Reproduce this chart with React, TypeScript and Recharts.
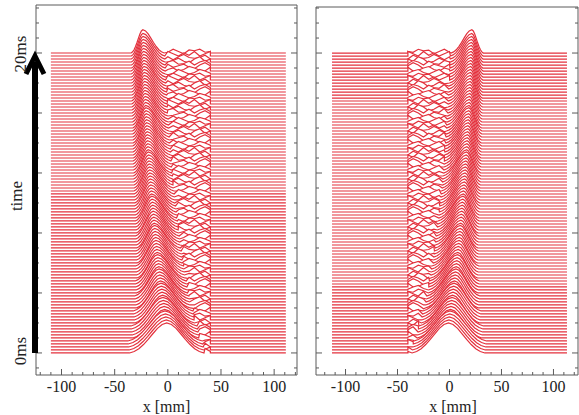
import { ComposedChart, Area, XAxis, YAxis } from "recharts";

const SERIF = "'Liberation Serif', 'DejaVu Serif', serif";
const TRACE_RED = "#e3303c";
const FRAME = "#5a5a5a";

// time of each trace [ms]
const TIMES = [
  0, 0.2, 0.4, 0.6, 0.8, 1, 1.2, 1.4, 1.6, 1.8,
  2, 2.2, 2.4, 2.6, 2.8, 3, 3.2, 3.4, 3.6, 3.8,
  4, 4.2, 4.4, 4.6, 4.8, 5, 5.2, 5.4, 5.6, 5.8,
  6, 6.2, 6.4, 6.6, 6.8, 7, 7.2, 7.4, 7.6, 7.8,
  8, 8.2, 8.4, 8.6, 8.8, 9, 9.2, 9.4, 9.6, 9.8,
  10, 10.2, 10.4, 10.6, 10.8, 11, 11.2, 11.4, 11.6, 11.8,
  12, 12.2, 12.4, 12.6, 12.8, 13, 13.2, 13.4, 13.6, 13.8,
  14, 14.2, 14.4, 14.6, 14.8, 15, 15.2, 15.4, 15.6, 15.8,
  16, 16.2, 16.4, 16.6, 16.8, 17, 17.2, 17.4, 17.6, 17.8,
  18, 18.2, 18.4, 18.6, 18.8, 19, 19.2, 19.4, 19.6, 19.8,
  20,
];

// crest position of each trace [mm]
const LEFT_PEAK = [
  -1.0, -1.4, -1.8, -2.2, -2.6, -3.0, -3.4, -3.8, -4.2, -4.6,
  -5.0, -5.4, -5.7, -6.1, -6.4, -6.8, -7.1, -7.5, -7.8, -8.2,
  -8.5, -8.8, -9.1, -9.4, -9.7, -10.0, -10.3, -10.6, -10.9, -11.2,
  -11.5, -11.8, -12.0, -12.3, -12.5, -12.8, -13.0, -13.3, -13.5, -13.8,
  -14.0, -14.3, -14.5, -14.8, -15.0, -15.3, -15.5, -15.8, -16.0, -16.3,
  -16.5, -16.7, -16.9, -17.1, -17.3, -17.5, -17.7, -17.9, -18.1, -18.3,
  -18.5, -18.7, -18.8, -19.0, -19.1, -19.3, -19.4, -19.6, -19.7, -19.9,
  -20.0, -20.2, -20.3, -20.5, -20.6, -20.8, -20.9, -21.1, -21.2, -21.4,
  -21.5, -21.6, -21.7, -21.8, -21.9, -22.0, -22.1, -22.2, -22.3, -22.4,
  -22.5, -22.6, -22.7, -22.8, -22.9, -23.0, -23.1, -23.2, -23.3, -23.4,
  -23.5,
];

const RIGHT_PEAK = [
  -1.0, -0.6, -0.2, 0.2, 0.6, 1.0, 1.4, 1.8, 2.2, 2.6,
  3.0, 3.4, 3.7, 4.1, 4.4, 4.8, 5.1, 5.5, 5.8, 6.2,
  6.5, 6.8, 7.1, 7.4, 7.7, 8.0, 8.3, 8.6, 8.9, 9.2,
  9.5, 9.8, 10.0, 10.3, 10.5, 10.8, 11.0, 11.3, 11.5, 11.8,
  12.0, 12.3, 12.5, 12.8, 13.0, 13.3, 13.5, 13.8, 14.0, 14.3,
  14.5, 14.7, 14.9, 15.1, 15.3, 15.5, 15.7, 15.9, 16.1, 16.3,
  16.5, 16.7, 16.8, 17.0, 17.1, 17.3, 17.4, 17.6, 17.7, 17.9,
  18.0, 18.2, 18.3, 18.5, 18.6, 18.8, 18.9, 19.1, 19.2, 19.4,
  19.5, 19.6, 19.7, 19.8, 19.9, 20.0, 20.1, 20.2, 20.3, 20.4,
  20.5, 20.6, 20.7, 20.8, 20.9, 21.0, 21.1, 21.2, 21.3, 21.4,
  21.5,
];

// per ms (0..20): crest height [ms units], leading / trailing half-widths [mm]
const PEAK_HEIGHT = [2.0, 1.9, 1.85, 1.8, 1.75, 1.7, 1.7, 1.65, 1.65, 1.6, 1.6, 1.6, 1.55, 1.55, 1.55, 1.5, 1.5, 1.5, 1.5, 1.5, 1.55];
const LEAD_WIDTH = [35, 30, 26, 23, 21, 19, 17.5, 16.5, 15.5, 15, 14.5, 14, 13.5, 13, 12.5, 12, 12, 11.5, 11.5, 11, 11];
const TAIL_WIDTH = [35, 32, 30, 28, 27, 26, 25, 24.5, 24, 23.5, 23, 22.5, 22, 22, 21.5, 21.5, 21, 21, 20.5, 20.5, 20];

// crest profile, sampled from the crest outwards (fraction of half-width)
const PULSE_U = [0, 0.125, 0.25, 0.375, 0.5, 0.625, 0.75, 0.875, 1];
const PULSE_SHAPE = [1, 0.95, 0.82, 0.64, 0.45, 0.28, 0.14, 0.05, 0];

// ripples behind the crest inside the measured window
const WAKE_X = [-40, -35, -30, -25, -20, -15, -10, -5, 0, 5, 10, 15, 20, 25, 30, 35, 40];
const WAKE_ROWS = [
  [0.05, -0.05, 0.1, 0.0, 0.15, 0.25, 0.1, -0.05, 0.2, 0.3, 0.05, 0.1, 0.25, 0.0, 0.2, 0.3, 0.1],
  [0.0, 0.1, -0.05, 0.15, 0.05, 0.0, 0.3, 0.2, 0.0, 0.1, 0.25, 0.05, -0.05, 0.2, 0.35, 0.05, 0.2],
  [0.1, 0.0, 0.05, 0.2, -0.05, 0.1, 0.05, 0.25, 0.15, -0.05, 0.15, 0.3, 0.1, 0.05, 0.1, 0.25, 0.0],
  [-0.05, 0.05, 0.15, 0.05, 0.2, 0.05, -0.1, 0.1, 0.3, 0.15, 0.0, 0.2, 0.05, 0.3, 0.0, 0.15, 0.3],
  [0.05, 0.15, 0.0, -0.05, 0.1, 0.3, 0.15, 0.0, 0.05, 0.25, 0.1, -0.05, 0.2, 0.15, 0.25, 0.05, 0.1],
  [0.0, -0.05, 0.2, 0.1, 0.0, 0.15, 0.25, 0.1, -0.05, 0.05, 0.3, 0.15, 0.0, 0.1, 0.3, 0.2, 0.05],
  [0.1, 0.05, -0.05, 0.25, 0.15, -0.05, 0.05, 0.2, 0.1, 0.2, 0.0, 0.1, 0.3, 0.2, 0.05, 0.0, 0.25],
  [0.0, 0.1, 0.05, 0.0, 0.25, 0.1, 0.2, -0.05, 0.25, 0.05, 0.15, 0.25, 0.05, -0.05, 0.2, 0.35, 0.15],
];

const LEFT_RANGE = [-110, 111];
const RIGHT_RANGE = [-113, 113];

const X_TICKS = [-120, -110, -100, -90, -80, -70, -60, -50, -40, -30, -20, -10, 0, 10, 20, 30, 40, 50, 60, 70, 80, 90, 100, 110, 120];
const Y_TICKS = [-1, 0, 1, 2, 3, 4, 5, 6, 7, 8, 9, 10, 11, 12, 13, 14, 15, 16, 17, 18, 19, 20, 21, 22, 23];

type Pt = { x: number; y: number };

function pulsePoints(peak: number, leftW: number, rightW: number, t: number, h: number): Pt[] {
  const pts: Pt[] = [];
  for (let k = PULSE_U.length - 1; k >= 1; k--) {
    pts.push({ x: peak - PULSE_U[k] * leftW, y: t + h * PULSE_SHAPE[k] });
  }
  pts.push({ x: peak, y: t + h });
  for (let k = 1; k < PULSE_U.length; k++) {
    pts.push({ x: peak + PULSE_U[k] * rightW, y: t + h * PULSE_SHAPE[k] });
  }
  return pts;
}

// crest travelling to -x, wake on its right
function leftTrace(i: number): Pt[] {
  const t = TIMES[i];
  const s = Math.floor(i / 5);
  const peak = LEFT_PEAK[i];
  const tail = TAIL_WIDTH[s];
  const wake = WAKE_ROWS[i % WAKE_ROWS.length];
  const pts: Pt[] = [{ x: LEFT_RANGE[0], y: t }, { x: -40, y: t }];
  pts.push(...pulsePoints(peak, LEAD_WIDTH[s], tail, t, PEAK_HEIGHT[s]));
  WAKE_X.forEach((x, j) => {
    if (x > peak + tail) pts.push({ x, y: t + wake[j] });
  });
  pts.push({ x: 40, y: t }, { x: LEFT_RANGE[1], y: t });
  return pts;
}

// crest travelling to +x, wake on its left
function rightTrace(i: number): Pt[] {
  const t = TIMES[i];
  const s = Math.floor(i / 5);
  const peak = RIGHT_PEAK[i];
  const tail = TAIL_WIDTH[s];
  const wake = WAKE_ROWS[i % WAKE_ROWS.length];
  const n = WAKE_X.length;
  const pts: Pt[] = [{ x: RIGHT_RANGE[0], y: t }, { x: -40, y: t }];
  WAKE_X.forEach((x, j) => {
    if (x < peak - tail) pts.push({ x, y: t + wake[n - 1 - j] });
  });
  pts.push(...pulsePoints(peak, tail, LEAD_WIDTH[s], t, PEAK_HEIGHT[s]));
  pts.push({ x: 40, y: t }, { x: RIGHT_RANGE[1], y: t });
  return pts;
}

// eslint-disable-next-line @typescript-eslint/no-explicit-any
function BottomTick(props: any) {
  const { x, y, payload } = props;
  const major = payload.value % 50 === 0;
  return (
    <g>
      <line x1={x} x2={x} y1={y} y2={y - (major ? 6 : 3)} stroke={FRAME} />
      {major && (
        <text x={x} y={y + 17} textAnchor="middle" fontSize={16} fontFamily={SERIF} fill="#222">
          {payload.value}
        </text>
      )}
    </g>
  );
}

// eslint-disable-next-line @typescript-eslint/no-explicit-any
function TopTick(props: any) {
  const { x, y, payload } = props;
  const major = payload.value % 50 === 0;
  return <line x1={x} x2={x} y1={y} y2={y + (major ? 6 : 3)} stroke={FRAME} />;
}

// eslint-disable-next-line @typescript-eslint/no-explicit-any
function LeftTick(props: any) {
  const { x, y, payload } = props;
  const major = payload.value % 4 === 0;
  return <line x1={x} x2={x + (major ? 6 : 3)} y1={y} y2={y} stroke={FRAME} />;
}

// eslint-disable-next-line @typescript-eslint/no-explicit-any
function RightTick(props: any) {
  const { x, y, payload } = props;
  const major = payload.value % 4 === 0;
  return <line x1={x} x2={x - (major ? 6 : 3)} y1={y} y2={y} stroke={FRAME} />;
}

interface PanelProps {
  traces: Pt[][];
  width: number;
  xDomain: [number, number];
  yDomain: [number, number];
  leftW: number;
  rightW: number;
  topH: number;
  labelDx: number;
}

function Panel({ traces, width, xDomain, yDomain, leftW, rightW, topH, labelDx }: PanelProps) {
  const order = traces.map((pts, i) => ({ pts, i })).reverse();
  return (
    <ComposedChart width={width} height={415} margin={{ top: 0, right: 0, bottom: 0, left: 0 }}>
      <XAxis
        xAxisId="b"
        type="number"
        dataKey="x"
        domain={xDomain}
        allowDataOverflow
        ticks={X_TICKS}
        interval={0}
        tickSize={0}
        tickMargin={0}
        height={40}
        axisLine={{ stroke: FRAME }}
        tick={BottomTick}
        label={{ value: "x [mm]", position: "insideBottom", offset: 3, dx: labelDx, fontSize: 16, fontFamily: SERIF, fill: "#222" }}
      />
      <XAxis
        xAxisId="t"
        orientation="top"
        type="number"
        domain={xDomain}
        allowDataOverflow
        ticks={X_TICKS}
        interval={0}
        tickSize={0}
        tickMargin={0}
        height={topH}
        axisLine={{ stroke: FRAME }}
        tick={TopTick}
      />
      <YAxis
        yAxisId="l"
        type="number"
        domain={yDomain}
        allowDataOverflow
        ticks={Y_TICKS}
        interval={0}
        tickSize={0}
        tickMargin={0}
        width={leftW}
        axisLine={{ stroke: FRAME }}
        tick={LeftTick}
      />
      <YAxis
        yAxisId="r"
        orientation="right"
        type="number"
        domain={yDomain}
        allowDataOverflow
        ticks={Y_TICKS}
        interval={0}
        tickSize={0}
        tickMargin={0}
        width={rightW}
        axisLine={{ stroke: FRAME }}
        tick={RightTick}
      />
      {order.map(({ pts, i }) => (
        <Area
          key={i}
          xAxisId="b"
          yAxisId="l"
          data={pts}
          dataKey="y"
          baseValue={TIMES[i]}
          type="linear"
          stroke={TRACE_RED}
          strokeWidth={1.2}
          fill="#ffffff"
          fillOpacity={1}
          dot={false}
          activeDot={false}
          isAnimationActive={false}
        />
      ))}
    </ComposedChart>
  );
}

export default function App() {
  const leftTraces = TIMES.map((_, i) => leftTrace(i));
  const rightTraces = TIMES.map((_, i) => rightTrace(i));
  return (
    <div style={{ position: "absolute", left: 0, top: 0, width: 579, height: 415, background: "#fff", fontFamily: SERIF }}>
      <div style={{ position: "absolute", left: 0, top: 0 }}>
        <Panel
          traces={leftTraces}
          width={300}
          xDomain={[-124, 121.5]}
          yDomain={[-1.47, 23.2]}
          leftW={36}
          rightW={3}
          topH={5}
          labelDx={0}
        />
      </div>
      <div style={{ position: "absolute", left: 300, top: 0 }}>
        <Panel
          traces={rightTraces}
          width={279}
          xDomain={[-128.4, 123.6]}
          yDomain={[-1.47, 23.07]}
          leftW={16}
          rightW={1}
          topH={7}
          labelDx={6}
        />
      </div>
      <svg width={60} height={415} style={{ position: "absolute", left: 0, top: 0 }}>
        <rect x={32} y={62} width={6} height={291} fill="#000" />
        <polyline points="26,74 35,56 44,74" fill="none" stroke="#000" strokeWidth={5} />
        <text transform="translate(26,54) rotate(-90)" textAnchor="middle" fontSize={17} fontFamily={SERIF} fill="#222">
          20ms
        </text>
        <text transform="translate(22,196) rotate(-90)" textAnchor="middle" fontSize={17} fontFamily={SERIF} fill="#222">
          time
        </text>
        <text transform="translate(26,351) rotate(-90)" textAnchor="middle" fontSize={17} fontFamily={SERIF} fill="#222">
          0ms
        </text>
      </svg>
    </div>
  );
}
